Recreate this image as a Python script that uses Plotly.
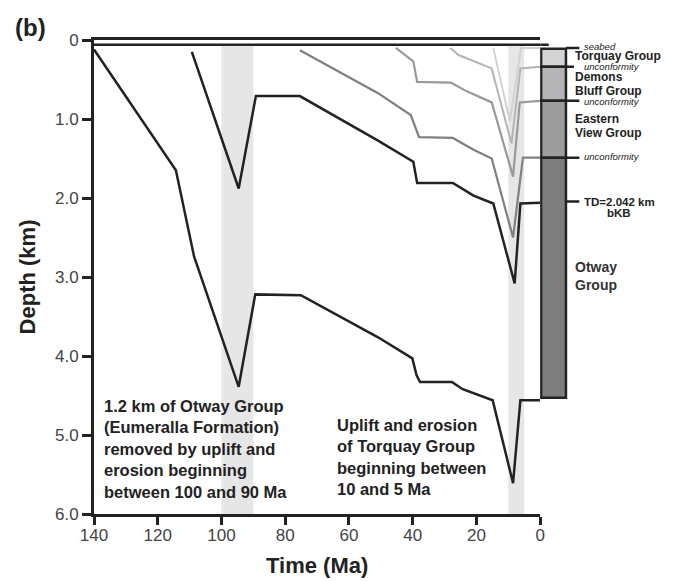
import plotly.graph_objects as go

# ---------------- data ----------------
# burial curves: time (Ma) and depth (km)
c1_t = [140, 114.3, 108.6, 94.6, 89.4, 75.1, 51, 40.1, 38.8, 37.7, 27.7, 24.3, 14.9, 8.5, 6.2, 0]
c1_d = [0.12, 1.65, 2.74, 4.39, 3.22, 3.23, 3.76, 4.03, 4.24, 4.33, 4.33, 4.42, 4.56, 5.61, 4.56, 4.56]
c2_t = [109.3, 94.6, 89.2, 75.4, 51, 39.8, 38.6, 27.4, 20.9, 14.7, 8.0, 6.2, 0]
c2_d = [0.15, 1.88, 0.71, 0.71, 1.27, 1.54, 1.81, 1.81, 1.97, 2.07, 3.08, 2.07, 2.06]
c3_t = [75.4, 51, 40.6, 38, 27.4, 20.9, 15.2, 8.5, 5.4, 0]
c3_d = [0.13, 0.67, 0.95, 1.23, 1.24, 1.39, 1.50, 2.50, 1.49, 1.49]
c4_t = [45.3, 39.8, 38.6, 28, 23, 15.2, 8.5, 6.4, 0]
c4_d = [0.10, 0.27, 0.53, 0.54, 0.65, 0.79, 1.73, 0.79, 0.77]
c5_t = [28.2, 25.6, 15.2, 9.0, 6.2, 0]
c5_d = [0.10, 0.19, 0.36, 1.31, 0.36, 0.34]
c6_t = [14.7, 9.5, 6.0, 0]
c6_d = [0.10, 1.03, 0.10, 0.10]

curve_colors = ["#222222", "#222222", "#808080", "#9a9a9a", "#b4b4b4", "#d2d2d2"]
curve_widths = [2.5, 2.5, 2.2, 2.2, 2.0, 2.0]

seabed_t = [140, 0]
seabed_d = [0.06, 0.06]

# erosion windows (Ma)
erosion_windows = [(100, 90), (10, 5)]

# stratigraphic column (depth km)
col_names = ["Torquay Group", "Demons Bluff Group", "Eastern View Group", "Otway Group"]
col_top = [0.11, 0.34, 0.77, 1.49]
col_base = [0.34, 0.77, 1.49, 4.53]
col_colors = ["#d4d4d4", "#b4b4b4", "#9c9c9c", "#7e7e7e"]
marker_depths = [0.10, 0.34, 0.77, 1.49, 2.045]

x_ticks = [140, 120, 100, 80, 60, 40, 20, 0]
y_ticks = [0, 1, 2, 3, 4, 5, 6]
y_ticktext = ["0", "1.0", "2.0", "3.0", "4.0", "5.0", "6.0"]

FONT = "Liberation Sans, Arial, sans-serif"
INK = "#222222"

fig = go.Figure()

# curves
curves = [(c1_t, c1_d), (c2_t, c2_d), (c3_t, c3_d), (c4_t, c4_d), (c5_t, c5_d), (c6_t, c6_d)]
for i in reversed(range(len(curves))):
    t, d = curves[i]
    fig.add_trace(go.Scatter(x=t, y=d, mode="lines", showlegend=False,
                             line=dict(color=curve_colors[i], width=curve_widths[i]),
                             hoverinfo="skip"))

fig.add_trace(go.Scatter(x=seabed_t, y=seabed_d, mode="lines", showlegend=False,
                         line=dict(color=INK, width=2.5), hoverinfo="skip"))
fig.add_trace(go.Scatter(x=[0, -2.7], y=seabed_d, mode="lines", showlegend=False,
                         line=dict(color=INK, width=2.5), hoverinfo="skip",
                         xaxis="x2", yaxis="y"))

# column as bars
fig.add_trace(go.Bar(
    x=[-4.2] * len(col_top),
    base=col_top,
    y=[b - t for t, b in zip(col_top, col_base)],
    width=7.8,
    marker=dict(color=col_colors, line=dict(color=INK, width=2.5)),
    showlegend=False, hoverinfo="skip", xaxis="x2", yaxis="y"))

# erosion bands
for a, b in erosion_windows:
    fig.add_shape(type="rect", x0=a, x1=b, xref="x", yref="y", y0=0.07, y1=6,
                  fillcolor="#e6e6e6", line_width=0, layer="below")

# marker ticks right of column
for i, d in enumerate(marker_depths):
    x1 = -10.6 if i == 1 else -12.3
    fig.add_shape(type="line", xref="x2", yref="y", x0=-8.1, x1=x1, y0=d, y1=d,
                  line=dict(color=INK, width=2.5))

def ann(text, x, y, size, bold=True, italic=False, xref="x2", xanchor="left",
        yanchor="middle", color=INK, align="left"):
    if bold:
        text = "<b>" + text + "</b>"
    if italic:
        text = "<i>" + text + "</i>"
    fig.add_annotation(text=text, x=x, y=y, xref=xref, yref="y", showarrow=False,
                       xanchor=xanchor, yanchor=yanchor, align=align, borderpad=0,
                       font=dict(family=FONT, size=size, color=color))

ann("seabed", -13.4, 0.085, 9.5, bold=False, italic=True)
ann("Torquay Group", -10.6, 0.205, 12)
ann("unconformity", -13.4, 0.335, 9.5, bold=False, italic=True)
ann("Demons", -10.6, 0.465, 12)
ann("Bluff Group", -10.6, 0.65, 12)
ann("unconformity", -13.4, 0.78, 9.5, bold=False, italic=True)
ann("Eastern", -10.6, 1.004, 12)
ann("View Group", -10.6, 1.181, 12)
ann("unconformity", -13.4, 1.477, 9.5, bold=False, italic=True)
ann("TD=2.042 km", -13.4, 2.047, 11.5)
ann("bKB", -24.6, 2.19, 11.5, xanchor="center")
ann("Otway", -10.6, 2.87, 14, color="#333333")
ann("Group", -10.6, 3.10, 14, color="#333333")

ann("1.2 km of Otway Group<br>(Eumeralla Formation)<br>removed by uplift and<br>erosion beginning<br>between 100 and 90 Ma",
    137.2, 4.50, 16.5, xref="x", yanchor="top")
ann("Uplift and erosion<br>of Torquay Group<br>beginning between<br>10 and 5 Ma",
    64.1, 4.75, 16.5, xref="x", yanchor="top")

# titles
fig.add_annotation(text="<b>Depth (km)</b>", xref="paper", yref="paper", x=-0.115, y=0.5,
                   textangle=-90, showarrow=False, xanchor="center", yanchor="middle",
                   font=dict(family=FONT, size=22, color=INK))
fig.add_annotation(text="<b>Time (Ma)</b>", xref="paper", yref="paper", x=0.385, y=-0.108,
                   showarrow=False, xanchor="center", yanchor="middle", borderpad=0,
                   font=dict(family=FONT, size=22, color=INK))
fig.add_annotation(text="<b>(b)</b>", xref="paper", yref="paper", x=-0.1096, y=1.027,
                   showarrow=False, xanchor="center", yanchor="middle", borderpad=0,
                   font=dict(family=FONT, size=24, color=INK))

# page body adds an 8px offset; compensate in size and margins
W, H, OFF = 678, 581, 8
dA = 450 / (W - OFF - 86)
fig.update_layout(
    width=W - OFF, height=H - OFF,
    margin=dict(l=94 - OFF, r=0, t=40 - OFF, b=67),
    paper_bgcolor="white", plot_bgcolor="white",
    barmode="overlay",
    xaxis=dict(domain=[0, dA], range=[140, 0], tickvals=x_ticks,
               ticks="outside", ticklen=8, tickwidth=3, tickcolor=INK,
               showline=True, linewidth=3, linecolor=INK, mirror=True,
               showgrid=False, zeroline=False, anchor="y", ticklabelstandoff=-4,
               tickfont=dict(family=FONT, size=17, color="#444444")),
    xaxis2=dict(domain=[dA, 1], range=[0, -134 / 3.214], anchor="y",
                visible=False, showgrid=False, zeroline=False),
    yaxis=dict(domain=[0, 1], range=[6, 0], tickvals=y_ticks, ticktext=y_ticktext,
               ticks="outside", ticklen=9, tickwidth=3, tickcolor=INK,
               showline=True, linewidth=3, linecolor=INK,
               showgrid=False, zeroline=False, anchor="x",
               tickfont=dict(family=FONT, size=17, color="#444444")),
)

fig.write_html("out.html")
